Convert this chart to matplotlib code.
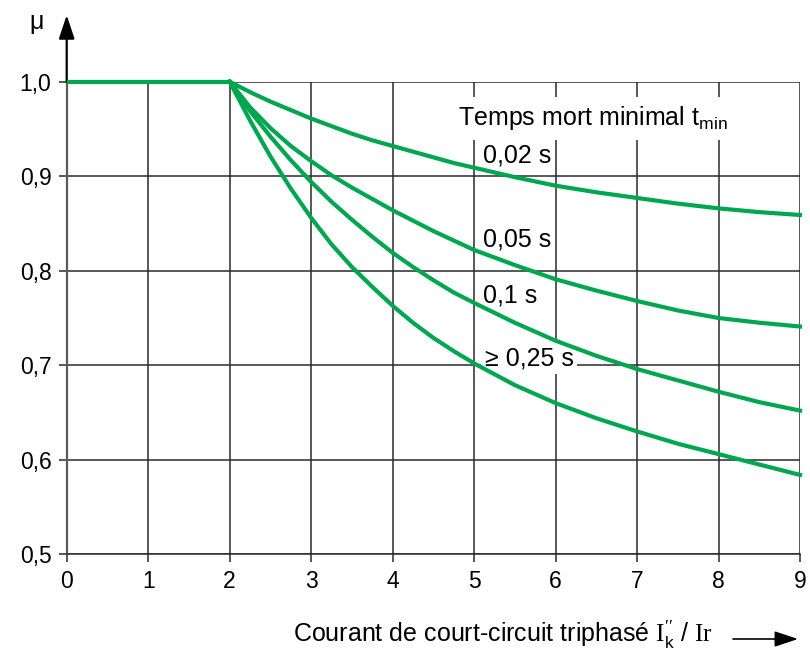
import numpy as np
import matplotlib
matplotlib.use('Agg')
import matplotlib.pyplot as plt

plt.rc('font', family='Liberation Sans', size=16)
plt.rc('mathtext', fontset='custom', rm='Liberation Serif', sf='Liberation Sans',
       it='Liberation Sans:italic')

flat_x = [0, 2]
flat_mu = [1.0, 1.0]
x = [2, 2.25, 2.5, 2.75, 3, 3.25, 3.5, 3.75, 4, 4.25, 4.5, 4.75, 5, 5.5, 6, 6.5, 7, 7.5, 8, 8.5, 9]
mu_002 = [1.0, 0.989, 0.979, 0.970, 0.961, 0.953, 0.945, 0.938, 0.932, 0.926, 0.920, 0.914,
          0.909, 0.899, 0.890, 0.883, 0.877, 0.871, 0.866, 0.862, 0.859]
mu_005 = [1.0, 0.973, 0.951, 0.932, 0.916, 0.901, 0.888, 0.876, 0.864, 0.853, 0.842, 0.832,
          0.822, 0.806, 0.791, 0.779, 0.768, 0.758, 0.750, 0.745, 0.741]
mu_01 = [1.0, 0.969, 0.942, 0.917, 0.894, 0.873, 0.854, 0.836, 0.819, 0.804, 0.790, 0.777,
         0.766, 0.745, 0.726, 0.710, 0.696, 0.684, 0.672, 0.661, 0.652]
mu_025 = [1.0, 0.959, 0.921, 0.887, 0.856, 0.828, 0.804, 0.783, 0.763, 0.745, 0.729, 0.715,
          0.702, 0.679, 0.660, 0.644, 0.630, 0.617, 0.606, 0.595, 0.584]
curve_labels = ['0,02 s', '0,05 s', '0,1 s', '\u2265 0,25 s']
label_pos = [(5.11, 0.9145), (5.11, 0.826), (5.11, 0.766), (5.13, 0.700)]
xticks = list(range(10))
yticks = [0.5, 0.6, 0.7, 0.8, 0.9, 1.0]
ytick_labels = ['0,5', '0,6', '0,7', '0,8', '0,9', '1,0']

green = '#00a650'
gridc = '#2a2a2a'

W, H = 810, 655
fig = plt.figure(figsize=(W/100, H/100), dpi=100)
x0, x1, ytop, ybot = 66.7, 800, 81.7, 554.3
ax = fig.add_axes([x0/W, 1-ybot/H, (x1-x0)/W, (ybot-ytop)/H])

ax.set_xlim(0, 9)
ax.set_ylim(0.5, 1.0)
ax.set_xticks(xticks)
ax.set_yticks(yticks)
ax.set_yticklabels(ytick_labels)
ax.grid(True, color=gridc, lw=1.1, zorder=1)
ax.set_axisbelow(True)
ax.tick_params(length=6, width=1.1, color=gridc, pad=5, labelsize=16.5)
for s in ['top', 'right']:
    ax.spines[s].set_visible(False)
ax.spines['bottom'].set_color(gridc)
ax.spines['bottom'].set_linewidth(1.1)
ax.spines['left'].set_color('#5a5a5a')
ax.spines['left'].set_linewidth(1.6)

ax.plot(flat_x, flat_mu, color=green, lw=3, zorder=4, solid_capstyle='butt', clip_on=False)
for mu in [mu_002, mu_005, mu_01, mu_025]:
    ax.plot(x, mu, color=green, lw=3, zorder=4, clip_on=False)

box = dict(boxstyle='square,pad=0.15', fc='white', ec='none')
for lab, (lx, ly) in zip(curve_labels, label_pos):
    ax.text(lx, ly, lab, fontsize=18, va='baseline', ha='left', zorder=3, bbox=box)
ax.text(4.80, 0.954, r'Temps mort minimal t$_{\mathdefault{min}}$', fontsize=18,
        va='baseline', ha='left', zorder=3,
        bbox=dict(boxstyle='square,pad=0.3', fc='white', ec='none'))

# y axis arrow and mu
ax.annotate('', xy=(0, 1.0 + (ytop-15)/947), xytext=(0, 1.0), xycoords='data',
            arrowprops=dict(arrowstyle='-|>,head_length=0.9,head_width=0.3',
                            color='black', lw=1.6, shrinkA=0, shrinkB=0),
            annotation_clip=False)
fig.text(37/W, 1-22/H, '\u03bc', fontsize=18, ha='center', va='center')

# x axis label with arrow
fig.text(293/W, (H-641.7)/H,
         r'Courant de court-circuit triphasé $\mathrm{I}_{\mathdefault{k}}^{\prime\prime}$ / $\mathrm{Ir}$',
         fontsize=18, ha='left', va='baseline')
ax.annotate('', xy=(798, H-639), xytext=(733, H-639), xycoords='figure pixels',
            arrowprops=dict(arrowstyle='-|>,head_length=0.9,head_width=0.3',
                            color='black', lw=1.2, shrinkA=0, shrinkB=0))

fig.savefig('out.png', dpi=100)
